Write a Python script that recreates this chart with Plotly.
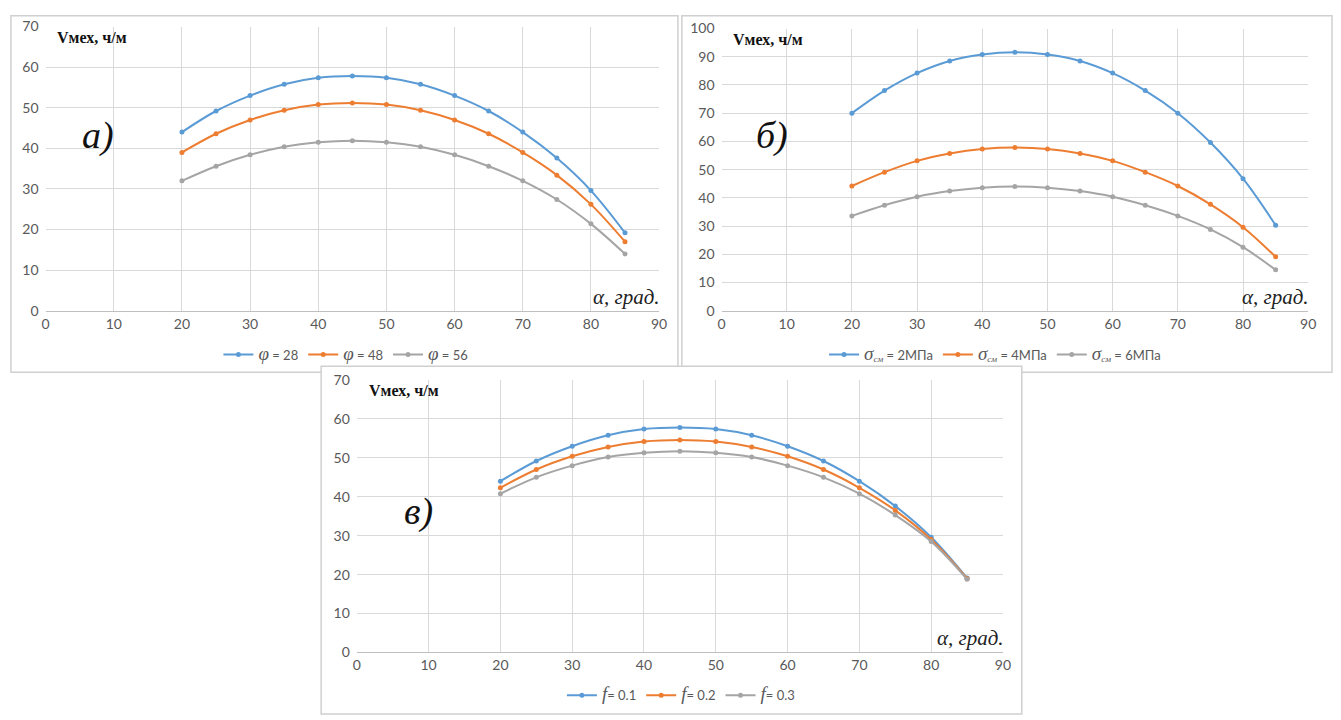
import plotly.graph_objects as go

W, H = 1341, 720

# Angle of inclination, degrees
alpha = [20, 25, 30, 35, 40, 45, 50, 55, 60, 65, 70, 75, 80, 85]

SYM = "<span style='font-family:Liberation Serif, serif;font-size:19px'><i>{}</i></span>"

# а) influence of the internal friction angle φ
a_phi28 = [44.0, 49.2, 53.0, 55.8, 57.4, 57.8, 57.4, 55.8, 53.0, 49.2, 44.0, 37.6, 29.6, 19.2]
a_phi48 = [39.0, 43.6, 47.0, 49.4, 50.8, 51.2, 50.8, 49.4, 47.0, 43.6, 39.0, 33.4, 26.2, 17.0]
a_phi56 = [32.0, 35.6, 38.4, 40.4, 41.5, 41.9, 41.5, 40.4, 38.4, 35.6, 32.0, 27.4, 21.4, 14.0]
a_names = [SYM.format("φ") + " = 28", SYM.format("φ") + " = 48", SYM.format("φ") + " = 56"]

# б) influence of the crushing strength σсм
b_s2 = [70.0, 78.0, 84.2, 88.5, 90.8, 91.6, 90.8, 88.5, 84.2, 78.0, 70.0, 59.6, 46.8, 30.3]
b_s4 = [44.2, 49.1, 53.1, 55.7, 57.3, 57.8, 57.3, 55.7, 53.1, 49.1, 44.2, 37.7, 29.6, 19.1]
b_s6 = [33.6, 37.4, 40.4, 42.4, 43.6, 44.0, 43.6, 42.4, 40.4, 37.4, 33.6, 28.8, 22.5, 14.5]
SIG = SYM.format("σ") + "<span style='font-family:Liberation Serif, serif'><i><sub>см</sub></i></span>"
b_names = [SIG + " = 2МПа", SIG + " = 4МПа", SIG + " = 6МПа"]

# в) influence of the friction coefficient f
c_f01 = [44.0, 49.2, 53.0, 55.8, 57.4, 57.8, 57.4, 55.8, 53.0, 49.2, 44.0, 37.6, 29.6, 19.1]
c_f02 = [42.3, 47.0, 50.4, 52.8, 54.2, 54.6, 54.2, 52.8, 50.4, 47.0, 42.3, 36.5, 29.0, 19.0]
c_f03 = [40.8, 45.0, 48.0, 50.2, 51.3, 51.7, 51.3, 50.2, 48.0, 45.0, 40.8, 35.3, 28.5, 18.8]
c_names = [SYM.format("f") + "= 0.1", SYM.format("f") + "= 0.2", SYM.format("f") + "= 0.3"]

x_ticks = [0, 10, 20, 30, 40, 50, 60, 70, 80, 90]
colors = ["#5B9BD5", "#ED7D31", "#A5A5A5"]

GRID = "#D9D9D9"
TICK = "#595959"
TICKFONT = dict(family="Lato, Liberation Sans, sans-serif", size=14, color=TICK)
SERIF = "Liberation Serif, serif"


def px(x):
    return x / W


def py(y):
    return 1 - y / H


fig = go.Figure()

panels = [
    # (xaxis id, yaxis id, legend id, series, names, x-domain px, y-domain px, y max)
    ("x", "y", "legend", [a_phi28, a_phi48, a_phi56], a_names, (42, 661), (18, 309), 70),
    ("x2", "y2", "legend2", [b_s2, b_s4, b_s6], b_names, (724, 1316), (20, 309), 100),
    ("x3", "y3", "legend3", [c_f01, c_f02, c_f03], c_names, (356, 1008), (380, 659), 70),
]

layout_axes = {}
for i, (xa, ya, lg, series, names, (xl, xr), (yt, yb), ymax) in enumerate(panels):
    for s, name, col in zip(series, names, colors):
        fig.add_trace(go.Scatter(
            x=alpha, y=s, name=name, xaxis=xa, yaxis=ya, legend=lg,
            mode="lines+markers", line=dict(color=col, width=2, shape="spline"),
            marker=dict(color=col, size=5, symbol="circle"),
        ))
    key = "" if i == 0 else str(i + 1)
    layout_axes["xaxis" + key] = dict(
        domain=[px(xl), px(xr)], range=[0, 90], tickvals=x_ticks,
        showgrid=True, gridcolor=GRID, gridwidth=1,
        showline=True, linecolor="#BFBFBF", linewidth=1,
        zeroline=False, ticks="", tickfont=TICKFONT, anchor=ya,
        fixedrange=True,
    )
    layout_axes["yaxis" + key] = dict(
        domain=[py(yb), py(yt)], range=[0, ymax], dtick=10,
        showgrid=True, gridcolor=GRID, gridwidth=1,
        showline=False, zeroline=False, ticks="", tickfont=TICKFONT,
        anchor=xa, ticklabelstandoff=6, fixedrange=True,
    )

fig.update_layout(**layout_axes)

legend_common = dict(
    orientation="h", xanchor="center", yanchor="middle",
    font=dict(family="Lato, Liberation Sans, sans-serif", size=13, color=TICK),
    bgcolor="rgba(0,0,0,0)", itemwidth=30, tracegroupgap=0,
)
fig.update_layout(
    legend=dict(x=px(345), y=py(354), **legend_common),
    legend2=dict(x=px(1000), y=py(354), **legend_common),
    legend3=dict(x=px(683), y=py(703), **legend_common),
)

# Panel frames
frames = [(7, 7, 680, 372), (684, 7, 1340, 372), (320, 366, 1027, 722)]
shapes = []
for x0, y0, x1, y1 in frames:
    shapes.append(dict(
        type="rect", xref="paper", yref="paper",
        x0=px(x0), x1=px(x1), y0=py(y1), y1=py(y0),
        line=dict(color="#D0D0D0", width=1.5), fillcolor="white", layer="below",
    ))

annotations = []
# Axis captions inside each plot area
for xa, ya in [("x", "y"), ("x2", "y2"), ("x3", "y3")]:
    annotations.append(dict(
        xref=xa + " domain", yref=ya + " domain", x=0.016, y=1.0,
        xanchor="left", yanchor="top", showarrow=False,
        text="<b>Vмех, ч/м</b>", font=dict(family=SERIF, size=16, color="#111111"),
    ))
    annotations.append(dict(
        xref=xa + " domain", yref=ya + " domain", x=1.005, y=0.0,
        xanchor="right", yanchor="bottom", showarrow=False,
        text="<i>α, град.</i>", font=dict(family=SERIF, size=21, color="#222222"),
    ))

# Panel letters
for text, xp, yp in [("а)", 95, 130), ("б)", 775, 130), ("в)", 418, 515)]:
    annotations.append(dict(
        xref="paper", yref="paper", x=px(xp), y=py(yp),
        xanchor="center", yanchor="middle", showarrow=False,
        text="<i>" + text + "</i>", font=dict(family=SERIF, size=38, color="#111111"),
    ))

fig.update_layout(
    width=W, height=H, margin=dict(l=0, r=0, t=0, b=0),
    paper_bgcolor="white", plot_bgcolor="rgba(0,0,0,0)",
    shapes=shapes, annotations=annotations, showlegend=True,
)

fig.write_html("out.html", config={"displayModeBar": False})
